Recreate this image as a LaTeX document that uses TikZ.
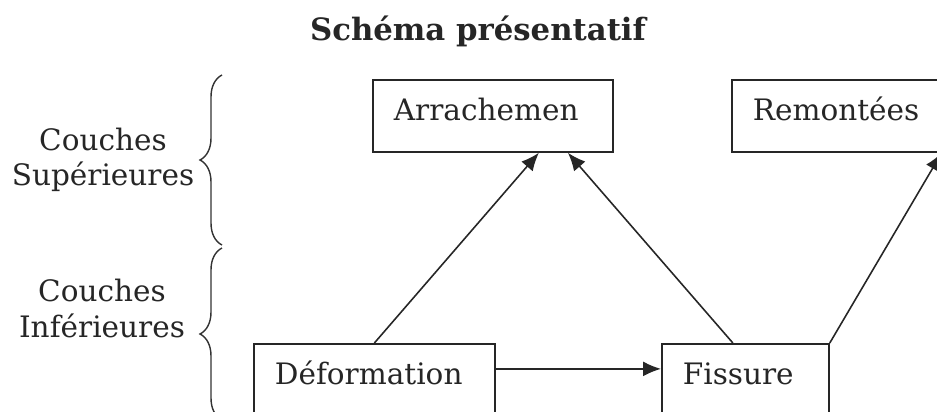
\documentclass[tikz,border=0pt]{standalone}
\usepackage{fontspec}
\setmainfont{DejaVu Serif}
\usepackage{tikz}
\usepackage{xcolor}
\usetikzlibrary{arrows.meta,decorations.pathreplacing}

\tikzset{
    boite/.style={draw=black!85, line width=1pt, anchor=north west, inner xsep=0.42cm, inner ysep=0pt,
        align=left, text height=0.82cm, text depth=0.62cm, font=\fontsize{16.8}{19}\selectfont},
    fleche/.style={-{Latex[length=3.6mm,width=3mm]}, black!85, line width=0.9pt},
    accolade/.style={decorate, decoration={brace,amplitude=0.44cm}, black!80, line width=0.8pt},
    etiquette/.style={align=center, font=\fontsize{16.8}{20}\selectfont}
}

\begin{document}
\begin{tikzpicture}[text=black!85]
                \useasboundingbox (0,0) rectangle (18.74,-8.22);
                \node[anchor=base, font=\fontsize{17.5}{19}\bfseries] (titre) at (9.56,-0.8) {Schéma présentatif};
                \node[boite, text width=3.96cm] (arr) at (7.44,-1.58) {Arrachemen};
                \node[boite, text width=3.58cm] (rem) at (14.62,-1.58) {Remontées};
                \node[boite, text width=3.98cm] (def) at (5.06,-6.86) {Déformation};
                \node[boite, text width=2.50cm] (fis) at (13.22,-6.86) {Fissure};
                \node[etiquette] (sup) at (2.06,-3.2) {Couches\\Supérieures};
                \node[etiquette] (inf) at (2.04,-6.17) {Couches\\Inférieures};
                \coordinate (a1) at (4.44,-4.9);
                \coordinate (a2) at (4.44,-1.5);
                \coordinate (a3) at (4.44,-8.4);
                \coordinate (a4) at (4.44,-4.96);
                \draw[accolade] (a1) -- (a2);
                \draw[accolade] (a3) -- (a4);
                \draw[fleche] (def.north) -- ([xshift=0.92cm]arr.south);
                \draw[fleche] ([xshift=-0.25cm]fis.north) -- ([xshift=1.5cm]arr.south);
                \draw[fleche] (fis.north east) -- ([xshift=-0.24cm]rem.south east);
                \draw[fleche] ([yshift=0.22cm]def.east) -- ([yshift=0.22cm]fis.west);
            \end{tikzpicture}
\end{document}
